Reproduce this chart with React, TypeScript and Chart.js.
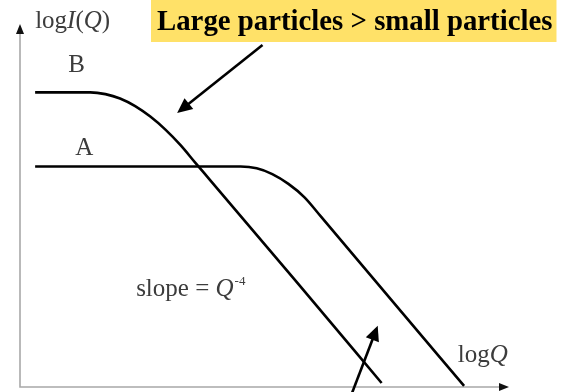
import React, { useEffect, useRef } from "react";
import { Chart, registerables } from "chart.js";

Chart.register(...registerables);

// Scattering curves, log I(Q) against log Q (arbitrary units)
const curveBLogQ = [0.31, 1.44, 1.75, 2.05, 2.36, 2.67, 2.98, 3.29, 3.59, 3.9, 5.65, 7.41];
const curveBLogI = [8.14, 8.14, 8.09, 7.97, 7.76, 7.47, 7.11, 6.68, 6.2, 5.71, 2.93, 0.11];
const curveALogQ = [0.31, 4.52, 4.85, 5.17, 5.5, 5.83, 6.16, 7.6, 9.1];
const curveALogI = [6.09, 6.09, 6.04, 5.88, 5.61, 5.24, 4.72, 2.42, 0.03];

const X_MAX = 10;
const Y_MAX = 10;

const HEADLINE = "Large particles > small particles";

const TEXT = "#3c3c3c";
const AXIS = "#a8a8a8";
const FONT = '"Liberation Serif", "Times New Roman", serif';

type Seg = { t: string; italic?: boolean; sup?: boolean };

const labels: { x: number; y: number; parts: Seg[] }[] = [
  { x: 0.31, y: 9.92, parts: [{ t: "log" }, { t: "I", italic: true }, { t: "(" }, { t: "Q", italic: true }, { t: ")" }] },
  { x: 0.99, y: 8.7, parts: [{ t: "B" }] },
  { x: 1.13, y: 6.41, parts: [{ t: "A" }] },
  { x: 2.38, y: 2.51, parts: [{ t: "slope = " }, { t: "Q", italic: true }, { t: "-4", sup: true }] },
  { x: 8.97, y: 0.69, parts: [{ t: "log" }, { t: "Q", italic: true }] },
];

const pointers = [
  { from: [4.97, 9.45], to: [3.22, 7.57] },
  { from: [6.78, -0.25], to: [7.33, 1.69] },
];

function zip(xs: number[], ys: number[]) {
  return xs.map((x, i) => ({ x, y: ys[i] }));
}

function arrowHead(ctx: CanvasRenderingContext2D, fx: number, fy: number, tx: number, ty: number, len: number, half: number) {
  const a = Math.atan2(ty - fy, tx - fx);
  ctx.beginPath();
  ctx.moveTo(tx, ty);
  ctx.lineTo(tx - len * Math.cos(a) + half * Math.sin(a), ty - len * Math.sin(a) - half * Math.cos(a));
  ctx.lineTo(tx - len * Math.cos(a) - half * Math.sin(a), ty - len * Math.sin(a) + half * Math.cos(a));
  ctx.closePath();
  ctx.fill();
}

const decorations = {
  id: "decorations",
  beforeDatasetsDraw(chart: any) {
    const { ctx, chartArea } = chart;
    const { left, right, top, bottom } = chartArea;
    ctx.save();
    ctx.strokeStyle = AXIS;
    ctx.lineWidth = 1.6;
    ctx.beginPath();
    ctx.moveTo(left, top + 6);
    ctx.lineTo(left, bottom);
    ctx.lineTo(right - 6, bottom);
    ctx.stroke();
    ctx.fillStyle = "#111";
    arrowHead(ctx, left, bottom, left, top - 1, 10, 4);
    arrowHead(ctx, left, bottom, right + 1, bottom, 10, 4);
    ctx.restore();
  },
  afterDraw(chart: any) {
    const { ctx, chartArea } = chart;
    const xs = chart.scales.x;
    const ys = chart.scales.y;
    ctx.save();

    // axis and curve labels
    ctx.beginPath();
    ctx.rect(0, 0, chartArea.right + 1, chart.height);
    ctx.clip();
    ctx.fillStyle = TEXT;
    ctx.textBaseline = "alphabetic";
    ctx.textAlign = "left";
    for (const lab of labels) {
      let px = xs.getPixelForValue(lab.x);
      const py = ys.getPixelForValue(lab.y);
      for (const s of lab.parts) {
        const size = s.sup ? 13 : 25;
        ctx.font = `${s.italic ? "italic " : ""}${size}px ${FONT}`;
        ctx.fillText(s.t, s.sup ? px + 1 : px, s.sup ? py - 11 : py);
        px += ctx.measureText(s.t).width;
      }
    }
    ctx.restore();

    // pointer arrows
    ctx.save();
    ctx.strokeStyle = "#000";
    ctx.fillStyle = "#000";
    ctx.lineWidth = 2.6;
    for (const p of pointers) {
      const fx = xs.getPixelForValue(p.from[0]);
      const fy = ys.getPixelForValue(p.from[1]);
      const tx = xs.getPixelForValue(p.to[0]);
      const ty = ys.getPixelForValue(p.to[1]);
      const a = Math.atan2(ty - fy, tx - fx);
      ctx.beginPath();
      ctx.moveTo(fx, fy);
      ctx.lineTo(tx - 10 * Math.cos(a), ty - 10 * Math.sin(a));
      ctx.stroke();
      arrowHead(ctx, fx, fy, tx, ty, 15, 7);
    }
    ctx.restore();

    // headline banner
    ctx.save();
    ctx.font = `bold 28.8px ${FONT}`;
    const w = ctx.measureText(HEADLINE).width;
    const bx = 151;
    ctx.fillStyle = "#ffe168";
    ctx.fillRect(bx, 0, w + 10, 42);
    ctx.fillStyle = "#000";
    ctx.textAlign = "left";
    ctx.textBaseline = "alphabetic";
    ctx.fillText(HEADLINE, bx + 6, 30);
    ctx.restore();
  },
};

export default function App() {
  const ref = useRef<HTMLCanvasElement | null>(null);

  useEffect(() => {
    if (!ref.current) return;
    const chart = new Chart(ref.current, {
      type: "line",
      data: {
        datasets: [
          {
            label: "B",
            data: zip(curveBLogQ, curveBLogI),
            borderColor: "#000",
            borderWidth: 2.6,
            pointRadius: 0,
            cubicInterpolationMode: "monotone",
            fill: false,
          },
          {
            label: "A",
            data: zip(curveALogQ, curveALogI),
            borderColor: "#000",
            borderWidth: 2.6,
            pointRadius: 0,
            cubicInterpolationMode: "monotone",
            fill: false,
          },
        ],
      },
      options: {
        responsive: false,
        animation: false,
        devicePixelRatio: 1,
        layout: { padding: { left: 20, top: 25, right: 55, bottom: 5 } },
        scales: {
          x: { type: "linear", min: 0, max: X_MAX, display: false },
          y: { type: "linear", min: 0, max: Y_MAX, display: false },
        },
        plugins: {
          legend: { display: false },
          tooltip: { enabled: false },
          title: { display: false },
        },
      },
      plugins: [decorations],
    });
    return () => chart.destroy();
  }, []);

  return (
    <div style={{ position: "fixed", left: 0, top: 0, width: 563, height: 392, background: "#fff" }}>
      <canvas ref={ref} width={563} height={392} />
    </div>
  );
}
